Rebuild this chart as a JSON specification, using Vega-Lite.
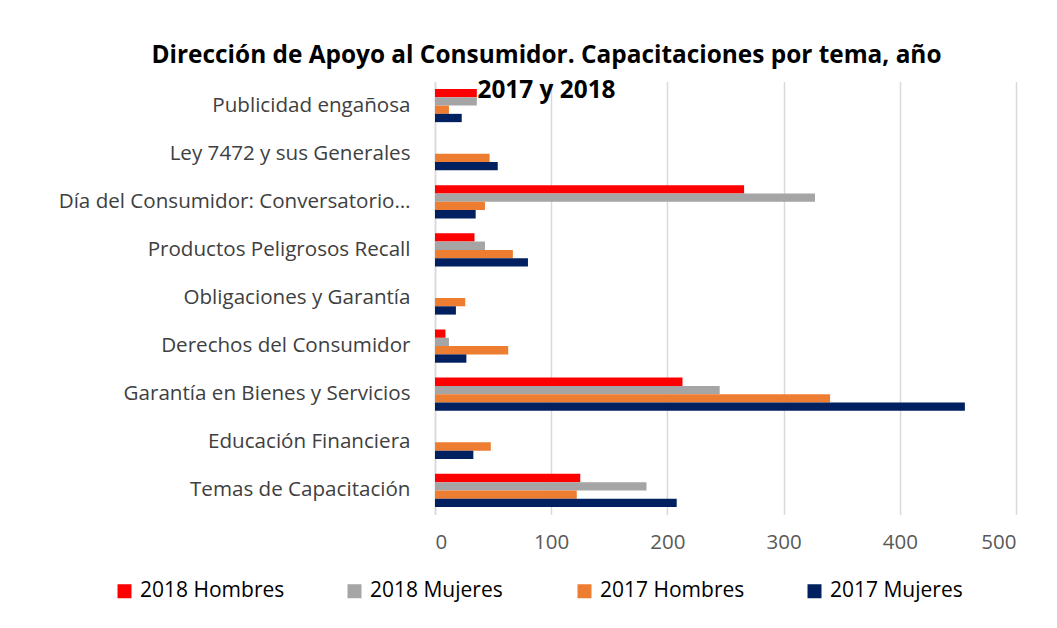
{
  "$schema": "https://vega.github.io/schema/vega-lite/v6.json",
  "width": 581,
  "height": 433,
  "autosize": {"type": "none"},
  "padding": {"left": 435, "top": 81.5, "right": 41, "bottom": 113.5},
  "background": "white",
  "title": {
    "text": ["Dirección de Apoyo al Consumidor. Capacitaciones por tema, año", "2017 y 2018"],
    "font": "Open Sans",
    "fontSize": 24.4,
    "fontWeight": "bold",
    "color": "#000000",
    "anchor": "middle",
    "dx": -179,
    "offset": 0,
    "dy": 22,
    "lineHeight": 35
  },
  "data": {
    "values": [
      {"tema": "Publicidad engañosa", "serie": "2018 Hombres", "valor": 36},
      {"tema": "Publicidad engañosa", "serie": "2018 Mujeres", "valor": 36},
      {"tema": "Publicidad engañosa", "serie": "2017 Hombres", "valor": 12},
      {"tema": "Publicidad engañosa", "serie": "2017 Mujeres", "valor": 23},
      {"tema": "Ley 7472 y sus Generales", "serie": "2017 Hombres", "valor": 47},
      {"tema": "Ley 7472 y sus Generales", "serie": "2017 Mujeres", "valor": 54},
      {"tema": "Día del Consumidor: Conversatorio…", "serie": "2018 Hombres", "valor": 266},
      {"tema": "Día del Consumidor: Conversatorio…", "serie": "2018 Mujeres", "valor": 327},
      {"tema": "Día del Consumidor: Conversatorio…", "serie": "2017 Hombres", "valor": 43},
      {"tema": "Día del Consumidor: Conversatorio…", "serie": "2017 Mujeres", "valor": 35},
      {"tema": "Productos Peligrosos Recall", "serie": "2018 Hombres", "valor": 34},
      {"tema": "Productos Peligrosos Recall", "serie": "2018 Mujeres", "valor": 43},
      {"tema": "Productos Peligrosos Recall", "serie": "2017 Hombres", "valor": 67},
      {"tema": "Productos Peligrosos Recall", "serie": "2017 Mujeres", "valor": 80},
      {"tema": "Obligaciones y Garantía", "serie": "2017 Hombres", "valor": 26},
      {"tema": "Obligaciones y Garantía", "serie": "2017 Mujeres", "valor": 18},
      {"tema": "Derechos del Consumidor", "serie": "2018 Hombres", "valor": 9},
      {"tema": "Derechos del Consumidor", "serie": "2018 Mujeres", "valor": 12},
      {"tema": "Derechos del Consumidor", "serie": "2017 Hombres", "valor": 63},
      {"tema": "Derechos del Consumidor", "serie": "2017 Mujeres", "valor": 27},
      {"tema": "Garantía en Bienes y Servicios", "serie": "2018 Hombres", "valor": 213},
      {"tema": "Garantía en Bienes y Servicios", "serie": "2018 Mujeres", "valor": 245},
      {"tema": "Garantía en Bienes y Servicios", "serie": "2017 Hombres", "valor": 340},
      {"tema": "Garantía en Bienes y Servicios", "serie": "2017 Mujeres", "valor": 456},
      {"tema": "Educación Financiera", "serie": "2017 Hombres", "valor": 48},
      {"tema": "Educación Financiera", "serie": "2017 Mujeres", "valor": 33},
      {"tema": "Temas de Capacitación", "serie": "2018 Hombres", "valor": 125},
      {"tema": "Temas de Capacitación", "serie": "2018 Mujeres", "valor": 182},
      {"tema": "Temas de Capacitación", "serie": "2017 Hombres", "valor": 122},
      {"tema": "Temas de Capacitación", "serie": "2017 Mujeres", "valor": 208}
    ]
  },
  "mark": {"type": "bar"},
  "encoding": {
    "y": {
      "field": "tema",
      "type": "nominal",
      "sort": ["Publicidad engañosa", "Ley 7472 y sus Generales", "Día del Consumidor: Conversatorio…", "Productos Peligrosos Recall", "Obligaciones y Garantía", "Derechos del Consumidor", "Garantía en Bienes y Servicios", "Educación Financiera", "Temas de Capacitación"],
      "scale": {"paddingInner": 0.31, "paddingOuter": 0.155},
      "axis": {
        "title": null,
        "ticks": false,
        "domain": true,
        "domainColor": "#d9d9d9",
        "domainWidth": 1.5,
        "labelPadding": 25,
        "labelFont": "Open Sans",
        "labelFontSize": 20.6,
        "labelColor": "#404040",
        "labelLimit": 420
      }
    },
    "x": {
      "field": "valor",
      "type": "quantitative",
      "scale": {"domain": [0, 500], "nice": false},
      "axis": {
        "title": null,
        "values": [0, 100, 200, 300, 400, 500],
        "domain": false,
        "ticks": false,
        "grid": true,
        "gridColor": "#d9d9d9",
        "gridWidth": 1.5,
        "labelPadding": 18,
        "labelFont": "Open Sans",
        "labelFontSize": 20.5,
        "labelColor": "#595959"
      }
    },
    "yOffset": {
      "field": "serie",
      "type": "nominal",
      "sort": ["2018 Hombres", "2018 Mujeres", "2017 Hombres", "2017 Mujeres"],
      "scale": {"paddingInner": 0, "paddingOuter": 0}
    },
    "color": {
      "field": "serie",
      "type": "nominal",
      "scale": {
        "domain": ["2018 Hombres", "2018 Mujeres", "2017 Hombres", "2017 Mujeres"],
        "range": ["#FF0000", "#A5A5A5", "#ED7D31", "#002060"]
      },
      "legend": {
        "title": null,
        "orient": "none",
        "legendX": -321,
        "legendY": 499,
        "direction": "horizontal",
        "columns": 4,
        "gridAlign": "all",
        "symbolType": "square",
        "symbolSize": 196,
        "symbolStrokeWidth": 0,
        "labelFont": "Open Sans",
        "labelFontSize": 21,
        "labelColor": "#000000",
        "labelOffset": 5,
        "labelLimit": 300,
        "columnPadding": 59
      }
    }
  },
  "config": {"view": {"stroke": null}}
}
